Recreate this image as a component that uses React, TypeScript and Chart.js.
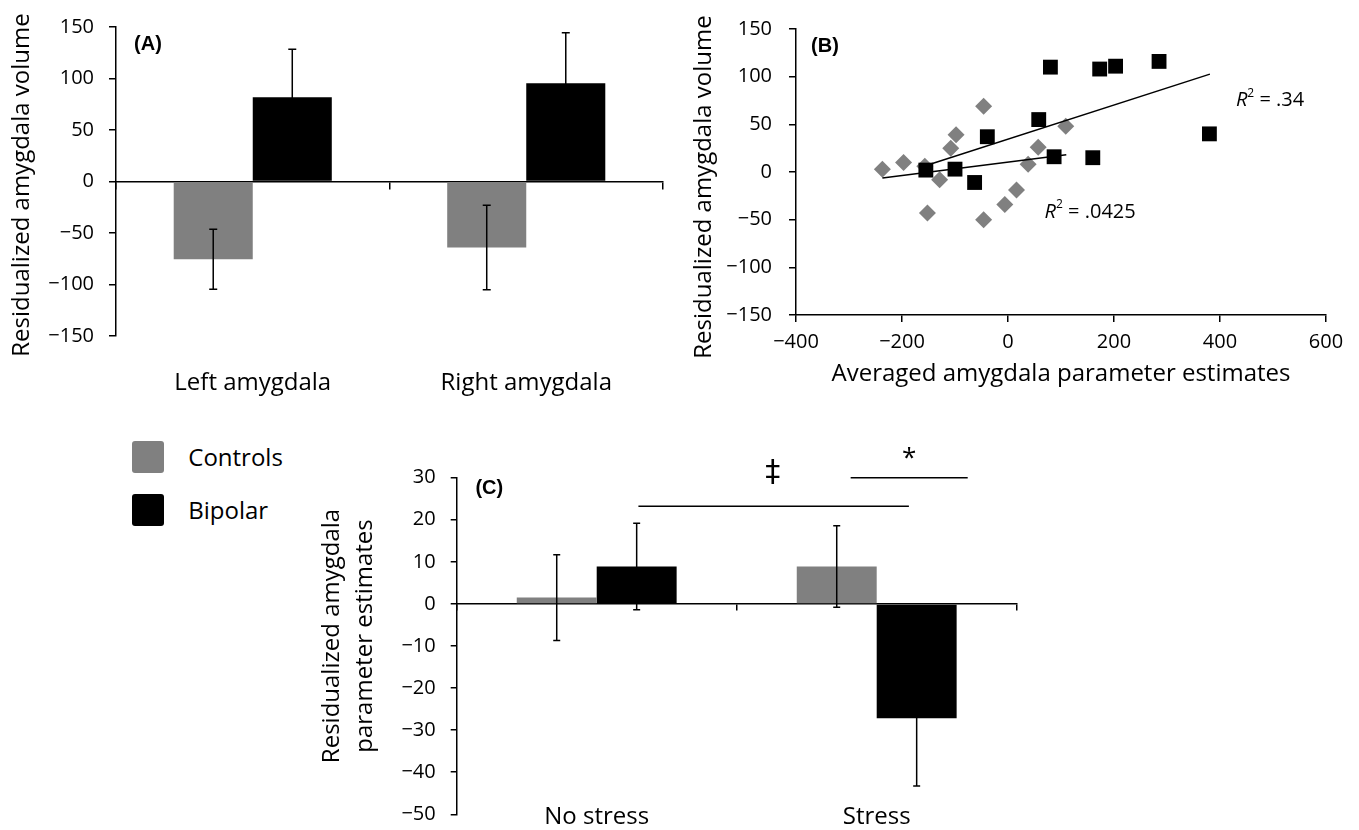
import React, { useEffect, useRef } from 'react';
import { Chart, registerables } from 'chart.js';

Chart.register(...registerables);

// ---------- Data ----------
// (A) residualized amygdala volume
const regions = ['Left amygdala', 'Right amygdala'];
const volumeControls = [-75.5, -64];
const volumeControlsErr = [29.2, 41];
const volumeBipolar = [81.7, 95.3];
const volumeBipolarErr = [46.7, 49];

// (B) averaged amygdala parameter estimates vs residualized volume
const bipolarParamX = [80, 173, 203, 285, 58, -39, 380, 87, 160, -155, -100, -63];
const bipolarVolumeY = [110, 108, 111, 116, 55, 37, 40, 16, 15, 2, 3, -11];
const controlsParamX = [-237, -197, -157, -129, -108, -98, -46, -152, -46, -6, 16, 38, 57, 109];
const controlsVolumeY = [3, 10, 6, -8, 25, 39, 69, -43, -50, -34, -19, 8, 26, 48];
const bipolarFitX = [-150, 381];
const bipolarFitY = [7.6, 102.7];
const controlsFitX = [-237, 110];
const controlsFitY = [-6.4, 18];
const r2Labels = [
  { x: 430, y: 75, text: '.34' },
  { x: 69, y: -42, text: '.0425' },
];

// (C) residualized amygdala parameter estimates
const conditions = ['No stress', 'Stress'];
const paramControls = [1.5, 8.9];
const paramControlsErr = [10.2, 9.7];
const paramBipolar = [8.9, -27.2];
const paramBipolarErr = [10.3, 16.1];
// significance brackets, in category units (0 = centre of first category) and value units
const sigBrackets = [
  { from: 0.149, to: 1.115, y: 23.2, mark: '\u2021', markAt: 0.629, markY: 31, font: "30px 'DejaVu Sans', sans-serif" },
  { from: 0.907, to: 1.325, y: 30, mark: '*', markAt: 1.116, markY: 34.6, font: "26px 'Open Sans', sans-serif" },
];

const legendItems = ['Controls', 'Bipolar'];

// ---------- Styles ----------
const GRAY = '#808080';
const BLACK = '#000000';
const FONT = "'Open Sans', sans-serif";
const LETTER_FONT = "bold 20px 'Liberation Sans', Arial, sans-serif";

Chart.defaults.color = '#000';
Chart.defaults.font.family = FONT;

const fmt = (v: any) => {
  const n = Number(v);
  return n < 0 ? '\u2212' + Math.abs(n) : String(n);
};

function errorBarsPlugin(capHalf: number) {
  return {
    id: 'errorBars',
    afterDatasetsDraw(chart: any) {
      const ctx = chart.ctx;
      chart.data.datasets.forEach((ds: any, i: number) => {
        if (!ds.errors) return;
        const meta = chart.getDatasetMeta(i);
        const ys = chart.scales[meta.yAxisID];
        meta.data.forEach((bar: any, j: number) => {
          const v = ds.data[j];
          const e = ds.errors[j];
          const x = bar.x;
          const t = ys.getPixelForValue(v + e);
          const b = ys.getPixelForValue(v - e);
          ctx.save();
          ctx.strokeStyle = BLACK;
          ctx.lineWidth = 1.5;
          ctx.beginPath();
          ctx.moveTo(x, t);
          ctx.lineTo(x, b);
          ctx.moveTo(x - capHalf, t);
          ctx.lineTo(x + capHalf, t);
          ctx.moveTo(x - capHalf, b);
          ctx.lineTo(x + capHalf, b);
          ctx.stroke();
          ctx.restore();
        });
      });
    },
  };
}

type Deco = {
  letter: string;
  letterDx: number;
  letterDy: number;
  titleLines: string[];
  titleX: number;
  titleY: number;
  titleGap: number;
};

function decorPlugin(d: Deco) {
  return {
    id: 'decor',
    afterDraw(chart: any) {
      const ctx = chart.ctx;
      const ca = chart.chartArea;
      ctx.save();
      ctx.fillStyle = BLACK;
      ctx.font = LETTER_FONT;
      ctx.textAlign = 'center';
      ctx.textBaseline = 'middle';
      ctx.fillText(d.letter, ca.left + d.letterDx, ca.top + d.letterDy);
      ctx.font = `24px ${FONT}`;
      ctx.translate(d.titleX, d.titleY);
      ctx.rotate(-Math.PI / 2);
      d.titleLines.forEach((line, i) => ctx.fillText(line, 0, i * d.titleGap));
      ctx.restore();
    },
  };
}

const r2Plugin = {
  id: 'r2',
  afterDraw(chart: any) {
    const ctx = chart.ctx;
    const xs = chart.scales.x;
    const ys = chart.scales.y;
    ctx.save();
    ctx.fillStyle = BLACK;
    ctx.textAlign = 'left';
    ctx.textBaseline = 'middle';
    r2Labels.forEach((l) => {
      let px = xs.getPixelForValue(l.x);
      const py = ys.getPixelForValue(l.y);
      ctx.font = `italic 20px ${FONT}`;
      ctx.fillText('R', px, py);
      px += ctx.measureText('R').width;
      ctx.font = `12px ${FONT}`;
      ctx.fillText('2', px, py - 7);
      px += ctx.measureText('2').width;
      ctx.font = `20px ${FONT}`;
      ctx.fillText(' = ' + l.text, px, py);
    });
    ctx.restore();
  },
};

const sigPlugin = {
  id: 'sig',
  afterDraw(chart: any) {
    const ctx = chart.ctx;
    const xs = chart.scales.x;
    const ys = chart.scales.y;
    const x0 = xs.getPixelForValue(0);
    const w = xs.getPixelForValue(1) - x0;
    ctx.save();
    ctx.strokeStyle = BLACK;
    ctx.fillStyle = BLACK;
    ctx.lineWidth = 1.5;
    ctx.textAlign = 'center';
    ctx.textBaseline = 'middle';
    sigBrackets.forEach((s) => {
      const y = ys.getPixelForValue(s.y);
      ctx.beginPath();
      ctx.moveTo(x0 + s.from * w, y);
      ctx.lineTo(x0 + s.to * w, y);
      ctx.stroke();
      ctx.font = s.font;
      ctx.fillText(s.mark, x0 + s.markAt * w, ys.getPixelForValue(s.markY));
    });
    ctx.restore();
  },
};

const tickFont = { family: FONT, size: 20 };
const catFont = { family: FONT, size: 24 };

function valueAxis(min: number, max: number, step: number, width: number, tickLen: number, pad: number) {
  return {
    type: 'linear',
    position: 'left',
    min,
    max,
    ticks: { stepSize: step, callback: fmt, font: tickFont, color: BLACK, padding: pad },
    grid: { drawOnChartArea: false, drawTicks: true, tickLength: tickLen, color: BLACK, lineWidth: 1.5 },
    border: { display: true, color: BLACK, width: 1.5 },
    afterFit: (s: any) => {
      s.width = width;
    },
  };
}

// zero line with category-boundary ticks, drawn where y = 0
function zeroAxis(labels: string[], tickLen: number) {
  return {
    type: 'category',
    axis: 'x',
    position: { y: 0 },
    offset: true,
    labels,
    z: 1,
    grid: { offset: true, drawOnChartArea: false, drawTicks: true, tickLength: tickLen, color: BLACK, lineWidth: 1.5 },
    border: { display: true, color: BLACK, width: 1.5 },
    ticks: { display: false },
  };
}

function useChart(ref: React.RefObject<HTMLCanvasElement>, make: () => any) {
  useEffect(() => {
    if (!ref.current) return;
    const chart = new Chart(ref.current, make());
    return () => chart.destroy();
  }, []);
}

const baseOptions = {
  responsive: false,
  maintainAspectRatio: false,
  animation: false,
  devicePixelRatio: 1,
  events: [],
};

export default function App() {
  const refA = useRef<HTMLCanvasElement>(null);
  const refB = useRef<HTMLCanvasElement>(null);
  const refC = useRef<HTMLCanvasElement>(null);

  useChart(refA, () => ({
    type: 'bar',
    data: {
      labels: regions,
      datasets: [
        { label: 'Controls', data: volumeControls, errors: volumeControlsErr, backgroundColor: GRAY, borderWidth: 0, xAxisID: 'x', yAxisID: 'y' },
        { label: 'Bipolar', data: volumeBipolar, errors: volumeBipolarErr, backgroundColor: BLACK, borderWidth: 0, xAxisID: 'x', yAxisID: 'y' },
      ],
    },
    options: {
      ...baseOptions,
      layout: { padding: { top: 19.3, right: 37, left: 0, bottom: 0 } },
      datasets: { bar: { categoryPercentage: 0.578, barPercentage: 1 } },
      plugins: { legend: { display: false }, tooltip: { enabled: false } },
      scales: {
        x: {
          type: 'category',
          position: 'bottom',
          offset: true,
          labels: regions,
          grid: { display: false, drawTicks: false },
          border: { display: false },
          ticks: { font: catFont, color: BLACK, padding: 33, maxRotation: 0, autoSkip: false },
          afterFit: (s: any) => {
            s.height = 64;
          },
        },
        xz: zeroAxis(regions, 7),
        y: valueAxis(-150, 150, 50, 116, 7, 15),
      },
    },
    plugins: [
      errorBarsPlugin(4),
      decorPlugin({ letter: '(A)', letterDx: 32, letterDy: 17, titleLines: ['Residualized amygdala volume'], titleX: 22.5, titleY: 185, titleGap: 0 }),
    ],
  }));

  useChart(refB, () => ({
    type: 'scatter',
    data: {
      datasets: [
        { label: 'Bipolar fit', data: bipolarFitX.map((x, i) => ({ x, y: bipolarFitY[i] })), showLine: true, borderColor: BLACK, borderWidth: 1.5, pointRadius: 0, backgroundColor: 'transparent', order: 0 },
        { label: 'Controls fit', data: controlsFitX.map((x, i) => ({ x, y: controlsFitY[i] })), showLine: true, borderColor: BLACK, borderWidth: 1.5, pointRadius: 0, backgroundColor: 'transparent', order: 0 },
        { label: 'Bipolar', data: bipolarParamX.map((x, i) => ({ x, y: bipolarVolumeY[i] })), pointStyle: 'rect', pointRadius: 10.5, backgroundColor: BLACK, borderWidth: 0, order: 1 },
        { label: 'Controls', data: controlsParamX.map((x, i) => ({ x, y: controlsVolumeY[i] })), pointStyle: 'rectRot', pointRadius: 8.5, backgroundColor: GRAY, borderWidth: 0, order: 2 },
      ],
    },
    options: {
      ...baseOptions,
      layout: { padding: { top: 19.3, right: 33, left: 0, bottom: 0 } },
      plugins: { legend: { display: false }, tooltip: { enabled: false } },
      scales: {
        x: {
          type: 'linear',
          position: 'bottom',
          min: -400,
          max: 600,
          ticks: { stepSize: 200, callback: fmt, font: tickFont, color: BLACK, padding: 8, maxRotation: 0 },
          grid: { drawOnChartArea: false, drawTicks: true, tickLength: 7, color: BLACK, lineWidth: 1.5 },
          border: { display: true, color: BLACK, width: 1.5 },
          title: { display: true, text: 'Averaged amygdala parameter estimates', font: catFont, color: BLACK, padding: { top: 0, bottom: 11 } },
          afterFit: (s: any) => {
            s.height = 85;
          },
        },
        y: valueAxis(-150, 150, 50, 136, 7, 17),
      },
    },
    plugins: [
      r2Plugin,
      decorPlugin({ letter: '(B)', letterDx: 29, letterDy: 17, titleLines: ['Residualized amygdala volume'], titleX: 44.6, titleY: 187, titleGap: 0 }),
    ],
  }));

  useChart(refC, () => ({
    type: 'bar',
    data: {
      labels: conditions,
      datasets: [
        { label: 'Controls', data: paramControls, errors: paramControlsErr, backgroundColor: GRAY, borderWidth: 0, xAxisID: 'x', yAxisID: 'y' },
        { label: 'Bipolar', data: paramBipolar, errors: paramBipolarErr, backgroundColor: BLACK, borderWidth: 0, xAxisID: 'x', yAxisID: 'y' },
      ],
    },
    options: {
      ...baseOptions,
      layout: { padding: { top: 57.7, right: 43.3, left: 0, bottom: 35.7 } },
      datasets: { bar: { categoryPercentage: 0.571, barPercentage: 1 } },
      plugins: { legend: { display: false }, tooltip: { enabled: false } },
      scales: {
        // category labels hang from the bottom of the value range (-50)
        x: {
          type: 'category',
          axis: 'x',
          position: { y: -50 },
          offset: true,
          labels: conditions,
          grid: { display: false, drawTicks: false },
          border: { display: false },
          ticks: { font: catFont, color: BLACK, padding: -12, maxRotation: 0, autoSkip: false },
        },
        xz: zeroAxis(conditions, 6),
        y: valueAxis(-50, 30, 10, 166.7, 6, 15),
      },
    },
    plugins: [
      errorBarsPlugin(3.5),
      sigPlugin,
      decorPlugin({ letter: '(C)', letterDx: 32.6, letterDy: 10.6, titleLines: ['Residualized amygdala', 'parameter estimates'], titleX: 42, titleY: 216, titleGap: 33 }),
    ],
  }));

  const legendColors = [GRAY, BLACK];

  return (
    <div style={{ position: 'absolute', left: 0, top: 0, width: 1359, height: 830, background: '#fff', overflow: 'hidden' }}>
      <canvas ref={refA} width={700} height={400} style={{ position: 'absolute', left: 0, top: 0 }} />
      <canvas ref={refB} width={699} height={400} style={{ position: 'absolute', left: 660, top: 0 }} />
      <canvas ref={refC} width={770} height={430} style={{ position: 'absolute', left: 290, top: 420 }} />
      <div style={{ position: 'absolute', left: 131.7, top: 440.7, fontFamily: FONT, fontSize: 24, color: '#000' }}>
        {legendItems.map((name, i) => (
          <div key={name} style={{ display: 'flex', alignItems: 'center', height: 32, marginBottom: 21.5 }}>
            <div style={{ width: 32, height: 32, borderRadius: 3, background: legendColors[i] }} />
            <span style={{ marginLeft: 24.6, lineHeight: '32px' }}>{name}</span>
          </div>
        ))}
      </div>
    </div>
  );
}
